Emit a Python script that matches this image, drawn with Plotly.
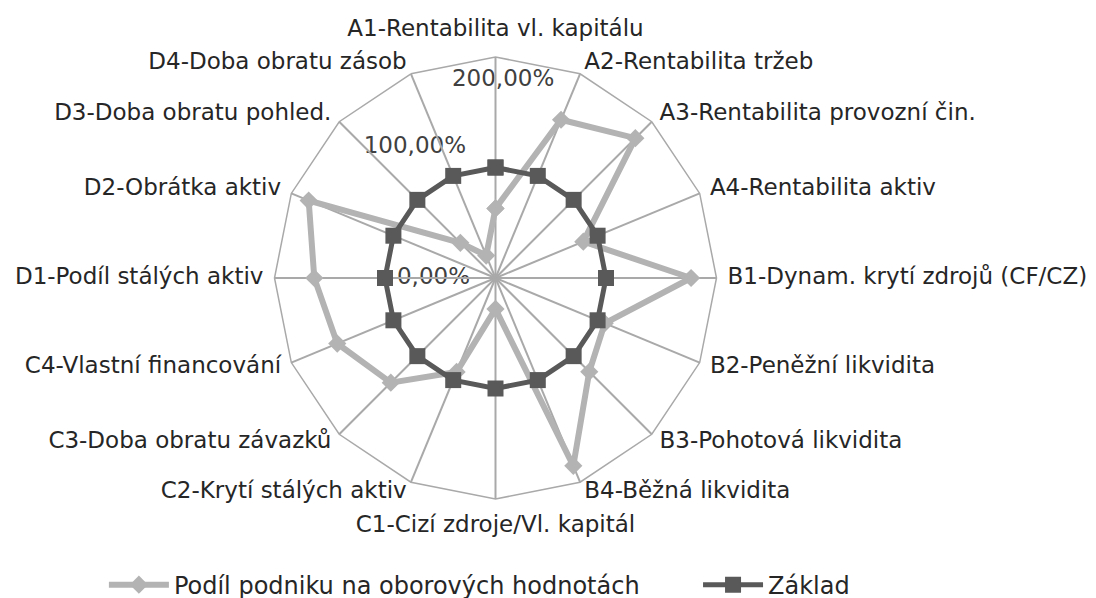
import plotly.graph_objects as go

categories = [
    "A1-Rentabilita vl. kapitálu",
    "A2-Rentabilita tržeb",
    "A3-Rentabilita provozní čin.",
    "A4-Rentabilita aktiv",
    "B1-Dynam. krytí zdrojů (CF/CZ)",
    "B2-Peněžní likvidita",
    "B3-Pohotová likvidita",
    "B4-Běžná likvidita",
    "C1-Cizí zdroje/Vl. kapitál",
    "C2-Krytí stálých aktiv",
    "C3-Doba obratu závazků",
    "C4-Vlastní financování",
    "D1-Podíl stálých aktiv",
    "D2-Obrátka aktiv",
    "D3-Doba obratu pohled.",
    "D4-Doba obratu zásob",
]
podil_values = [0.63, 1.55, 1.79, 0.86, 1.77, 1.07, 1.20, 1.84,
                0.28, 0.92, 1.34, 1.55, 1.64, 1.83, 0.45, 0.22]
zaklad_values = [1.0] * 16
series_names = ["Podíl podniku na oborových hodnotách", "Základ"]

tick_labels = ["0,00%", "100,00%", "200,00%"]
tick_label_r = [0.561, 1.392, 1.793]
tick_label_theta = [270, 328.4, 2.2]

LIGHT = "#b3b3b3"
DARK = "#595959"
GRID = "#a9a9a9"
TEXT = "#262626"
FONT = "DejaVu Sans"
RMAX = 2.0

W, H = 1096, 598
CX, CY, R = 487.5, 270.0, 221.0   # radar centre / radius in figure px
TEXT_SCALE = 1.2                   # text layer has a larger range & domain


def domain(radius):
    return (dict(x=[(CX - radius) / W, (CX + radius) / W],
                 y=[(H - CY - radius) / H, (H - CY + radius) / H]))


# category label placement (Excel-like: beside the outer polygon vertices)
n = len(categories)
label_theta = [i * 360.0 / n for i in range(n)]
label_pos, label_r = [], []
for th in label_theta:
    if th == 0:
        label_pos.append("top center"); label_r.append(RMAX * 1.07)
    elif th == 180:
        label_pos.append("bottom center"); label_r.append(RMAX * 1.07)
    elif th < 180:
        label_pos.append("middle right"); label_r.append(RMAX * 1.05)
    else:
        label_pos.append("middle left"); label_r.append(RMAX * 1.05)

# close the loops
cats_closed = categories + categories[:1]
podil_closed = podil_values + podil_values[:1]
zaklad_closed = zaklad_values + zaklad_values[:1]

fig = go.Figure()
# text layer (bottom subplot, linear angular axis in degrees)
fig.add_trace(go.Scatterpolar(
    r=tick_label_r, theta=tick_label_theta, text=tick_labels,
    mode="text", textposition="middle center",
    textfont=dict(family="DejaVu Sans", size=23, color="#404040"),
    showlegend=False, hoverinfo="skip", cliponaxis=False,
    subplot="polar",
))
fig.add_trace(go.Scatterpolar(
    r=label_r, theta=label_theta, text=categories,
    mode="text", textposition=label_pos,
    textfont=dict(family=FONT, size=23, color=TEXT),
    showlegend=False, hoverinfo="skip", cliponaxis=False,
    subplot="polar",
))
# data layer (categorical radar)
fig.add_trace(go.Scatterpolar(
    r=podil_closed, theta=cats_closed, name=series_names[0],
    mode="lines+markers",
    line=dict(color=LIGHT, width=6),
    marker=dict(symbol="diamond", size=14, color=LIGHT),
    subplot="polar2", legend="legend",
))
fig.add_trace(go.Scatterpolar(
    r=zaklad_closed, theta=cats_closed, name=series_names[1],
    mode="lines+markers",
    line=dict(color=DARK, width=5),
    marker=dict(symbol="square", size=16, color=DARK),
    subplot="polar2", legend="legend2",
))

legend_common = dict(
    orientation="h", yanchor="middle", y=0.035,
    itemwidth=60, font=dict(family=FONT, size=24, color=TEXT),
    bgcolor="rgba(0,0,0,0)", xanchor="left",
)

fig.update_layout(
    width=W, height=H,
    margin=dict(l=0, r=0, t=0, b=0, autoexpand=False),
    paper_bgcolor="white",
    font=dict(family=FONT, size=22, color=TEXT),
    polar=dict(
        domain=domain(R * TEXT_SCALE),
        bgcolor="rgba(0,0,0,0)",
        angularaxis=dict(visible=False, rotation=90, direction="clockwise",
                         thetaunit="degrees"),
        radialaxis=dict(visible=False, range=[0, RMAX * TEXT_SCALE]),
    ),
    polar2=dict(
        domain=domain(R),
        bgcolor="rgba(0,0,0,0)",
        gridshape="linear",
        angularaxis=dict(
            rotation=90, direction="clockwise",
            showgrid=True, gridcolor=GRID, gridwidth=1.5,
            showline=True, linecolor=GRID, linewidth=1.5,
            ticks="", showticklabels=False,
        ),
        radialaxis=dict(
            range=[0, RMAX], showgrid=False, showline=False,
            showticklabels=False, ticks="",
        ),
    ),
    showlegend=True,
    legend=dict(x=0.0875, **legend_common),
    legend2=dict(x=0.6296, **legend_common),
)

fig.write_html("out.html")
